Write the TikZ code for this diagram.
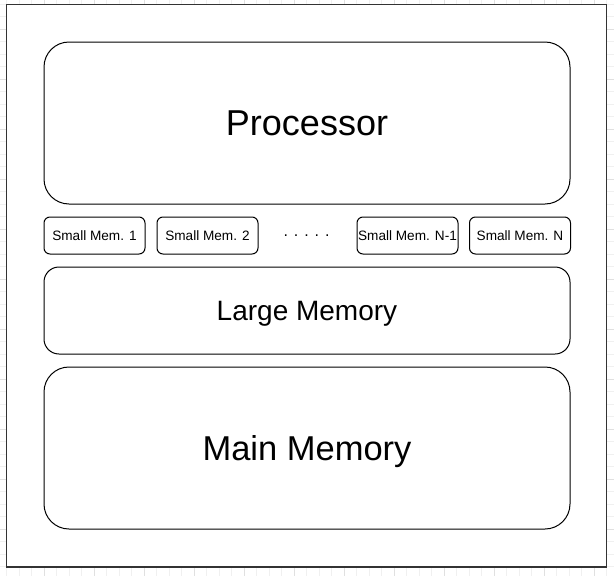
\documentclass[tikz,border=0pt]{standalone}
\usepackage{fontspec}
\setmainfont{Liberation Sans}

\begin{document}
\begin{tikzpicture}[
            x=1pt, y=-1pt,
            minorgrid/.style={draw=black!6, line width=0.6pt},
            majorgrid/.style={draw=black!12, line width=0.6pt},
            frame/.style={draw=black!80, line width=1.4pt, fill=white},
            bigbox/.style={rectangle, draw, line width=1pt, rounded corners=25pt, minimum width=526pt, minimum height=162pt, text depth=0pt, text height=25pt},
            largebox/.style={rectangle, draw, line width=1pt, rounded corners=15pt, minimum width=526pt, minimum height=87pt, text depth=0pt, text height=20pt, font=\fontsize{28}{32}\selectfont},
            smallbox/.style={rectangle, draw, line width=1pt, rounded corners=6pt, minimum width=101pt, minimum height=37pt, inner sep=1pt, font=\fontsize{13.6}{15}\selectfont}
            ]
            \useasboundingbox (0,0) rectangle (614,576);
            
            % Background grid
            \foreach \x in {6.5,19,...,614} \draw[minorgrid] (\x,0) -- (\x,576);
            \foreach \y in {4,16.5,...,576} \draw[minorgrid] (0,\y) -- (614,\y);
            \foreach \x in {44,94,...,614} \draw[majorgrid] (\x,0) -- (\x,576);
            \foreach \y in {29,79,...,576} \draw[majorgrid] (0,\y) -- (614,\y);
            
            % Outer frame
            \draw[frame] (6.5,4.5) rectangle (606.5,567);
            
            % Processor
            \node[bigbox, font=\fontsize{36}{40}\selectfont] (processor) at (307,123) {Processor};
            
            % Small memories
            \node[smallbox] (small1) at (94.5,235.5) {Small Mem. 1};
            \node[smallbox] (small2) at (207.5,235.5) {Small Mem. 2};
            \node[anchor=base, font=\fontsize{16}{18}\selectfont] (dots) at (306.5,236) {. . . . .};
            \node[smallbox] (smalln1) at (407.5,235.5) {Small Mem. N-1};
            \node[smallbox] (smalln) at (520,235.5) {Small Mem. N};
            
            % Memories below
            \node[largebox] (large) at (307,310.5) {Large Memory};
            \node[bigbox, font=\fontsize{34.5}{38}\selectfont] (main) at (307,448) {Main Memory};
            
        \end{tikzpicture}
\end{document}
